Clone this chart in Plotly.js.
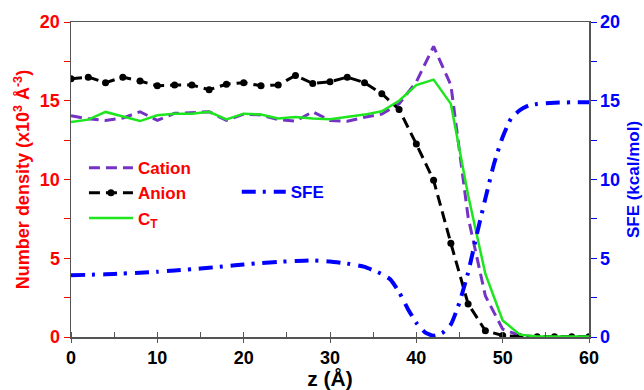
<!DOCTYPE html>
<html>
<head>
<meta charset="utf-8">
<script src="https://cdn.plot.ly/plotly-3.0.1.min.js"></script>
<style>
html,body{margin:0;padding:0;background:#fff;}
#chart{width:644px;height:390px;}
</style>
</head>
<body>
<div id="chart"></div>
<script>
// ---- data ----
var zGrid = [0,2,4,6,8,10,12,14,16,18,20,22,24,26,28,30,32,34,36,38,40,42,44,46,48,50,52,54,56,58,60];
var cation = [14.05,13.85,13.75,13.9,14.3,13.75,14.2,14.25,14.3,13.75,14.15,14.1,13.8,13.7,14.3,13.75,13.7,13.95,14.15,14.8,16.2,18.45,16.0,7.6,2.6,0.5,0.1,0.02,0.02,0.02,0.02];
var anion = [16.4,16.5,16.15,16.5,16.25,15.95,16.0,16.0,15.7,16.05,16.15,15.95,16.0,16.6,16.1,16.2,16.5,16.15,15.45,14.45,12.25,9.95,5.95,2.1,0.4,0.1,0.02,0.01,0.01,0.01,0.01];
var ctotal = [13.65,13.8,14.29,14.01,13.71,14.08,14.18,14.18,14.3,13.82,14.18,14.12,13.87,13.97,13.87,13.82,13.97,14.12,14.33,15.0,16.0,16.34,14.8,9.0,4.0,1.05,0.15,0.03,0.03,0.03,0.03];
var sfeZ = [0,2,4,6,8,10,12,14,16,18,20,22,24,26,28,30,32,34,36,37,38,39,40,41,42,43,44,45,46,47,48,49,50,51,52,53,54,56,58,60];
var sfe  = [3.92,3.95,3.98,4.03,4.08,4.14,4.22,4.3,4.4,4.5,4.6,4.7,4.77,4.83,4.86,4.8,4.66,4.45,4.0,3.65,2.85,1.8,0.9,0.3,0.08,0.25,0.8,2.2,4.1,6.5,8.8,11.0,12.7,13.9,14.4,14.7,14.8,14.88,14.9,14.9];
var seriesNames = ['<b>Cation</b>','<b>Anion</b>','<b>C<sub>T</sub></b>','<b>SFE</b>'];

var FONT = 'Liberation Sans, Arial, Helvetica, sans-serif';
var RED = '#ff0000', BLUE = '#0000ff';

var traces = [
  {x: zGrid, y: cation, name: seriesNames[0], mode: 'lines', type: 'scatter',
   line: {color: '#7433c4', width: 3, dash: '11px,6px'}, legend: 'legend'},
  {x: zGrid, y: anion, name: seriesNames[1], mode: 'lines+markers', type: 'scatter',
   line: {color: '#000000', width: 3, dash: '11px,6px'},
   marker: {color: '#000000', size: 7, symbol: 'circle'}, legend: 'legend'},
  {x: zGrid, y: ctotal, name: seriesNames[2], mode: 'lines', type: 'scatter',
   line: {color: '#1ee61e', width: 2.5}, legend: 'legend'},
  {x: sfeZ, y: sfe, name: seriesNames[3], mode: 'lines', type: 'scatter', yaxis: 'y2',
   line: {color: BLUE, width: 4, dash: '14px,7px,3px,8px', shape: 'spline', smoothing: 0.5}, legend: 'legend2'}
];

var layout = {
  width: 644, height: 390,
  margin: {l: 71, r: 55, t: 22, b: 53},
  paper_bgcolor: '#ffffff', plot_bgcolor: '#ffffff',
  font: {family: FONT, size: 17},
  showlegend: true,
  legend: {x: 0.025, y: 0.593, xanchor: 'left', yanchor: 'top', bgcolor: 'rgba(0,0,0,0)',
           itemwidth: 44,
           font: {family: FONT, size: 17, color: RED, weight: 'bold'}, tracegroupgap: 0},
  legend2: {x: 0.32, y: 0.517, xanchor: 'left', yanchor: 'top', bgcolor: 'rgba(0,0,0,0)',
           itemwidth: 44,
           font: {family: FONT, size: 17, color: BLUE, weight: 'bold'}},
  xaxis: {
    range: [0, 60], dtick: 10, tick0: 0,
    showline: true, linecolor: '#555555', linewidth: 1.5, mirror: true,
    ticks: 'outside', ticklen: 4, tickcolor: '#555555', tickwidth: 1,
    minor: {dtick: 5, ticks: 'inside', ticklen: 5, tickcolor: '#555555'},
    showgrid: false, zeroline: false,
    tickfont: {family: FONT, size: 18, color: '#000000', weight: 'bold'},
    title: {text: '<b>z (Å)</b>', font: {family: FONT, size: 21, color: '#000000', weight: 'bold'}, standoff: 6}
  },
  yaxis: {
    range: [0, 20], dtick: 5,
    showline: true, linecolor: '#555555', linewidth: 1.5,
    ticks: 'outside', ticklen: 6, tickcolor: RED, tickwidth: 1,
    minor: {dtick: 2.5, ticks: 'outside', ticklen: 6, tickcolor: RED},
    showgrid: false, zeroline: false,
    tickfont: {family: FONT, size: 18, color: RED, weight: 'bold'},
    title: {text: '<b>Number density (x10<sup>3</sup> Å<sup>-3</sup>)</b>', font: {family: FONT, size: 18, color: RED, weight: 'bold'}, standoff: 5}
  },
  yaxis2: {
    range: [0, 20], dtick: 5, overlaying: 'y', side: 'right',
    showline: true, linecolor: '#555555', linewidth: 1.5,
    ticks: 'outside', ticklen: 6, tickcolor: BLUE, tickwidth: 1,
    minor: {dtick: 2.5, ticks: 'outside', ticklen: 6, tickcolor: BLUE},
    showgrid: false, zeroline: false,
    tickfont: {family: FONT, size: 18, color: BLUE, weight: 'bold'},
    title: {text: '<b>SFE (kcal/mol)</b>', font: {family: FONT, size: 17, color: BLUE, weight: 'bold'}, standoff: 8}
  }
};

Plotly.newPlot('chart', traces, layout, {staticPlot: true, displayModeBar: false});
</script>
</body>
</html>
